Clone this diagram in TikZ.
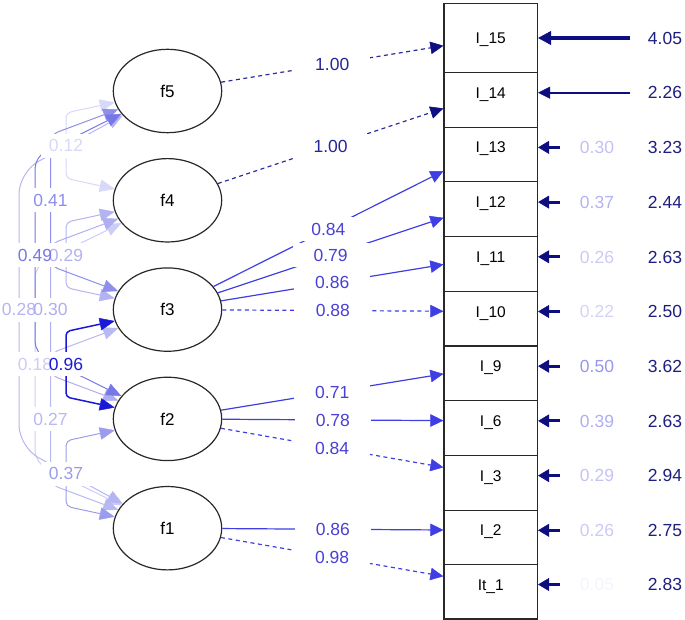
\documentclass[tikz,border=0pt]{standalone}
\usepackage{fontspec}
\setmainfont{Liberation Sans}
\usetikzlibrary{shapes.geometric,arrows.meta}
\definecolor{cb}{RGB}{25,25,215}
\definecolor{navyc}{RGB}{14,14,128}
\definecolor{navyl}{RGB}{30,30,128}
\definecolor{loadc}{RGB}{62,62,228}
\definecolor{loadl}{RGB}{74,64,214}
\definecolor{onec}{RGB}{42,42,165}
\definecolor{onel}{RGB}{38,38,150}
\definecolor{outl}{RGB}{40,40,40}
\colorlet{w12}{cb!17!white}
\colorlet{w18}{cb!22!white}
\colorlet{w27}{cb!31!white}
\colorlet{w28}{cb!32!white}
\colorlet{w29}{cb!33!white}
\colorlet{w30}{cb!35!white}
\colorlet{w37}{cb!43!white}
\colorlet{w41}{cb!49!white}
\colorlet{w49}{cb!59!white}
\colorlet{w96}{cb}
\colorlet{r05}{cb!5!white}
\colorlet{r22}{cb!19!white}
\colorlet{r26}{cb!23!white}
\colorlet{r29}{cb!26!white}
\colorlet{r30}{cb!27!white}
\colorlet{r37}{cb!33!white}
\colorlet{r39}{cb!35!white}
\colorlet{r50}{cb!45!white}
\begin{document}
\begin{tikzpicture}[x=1pt,y=-1pt,
 latent/.style={ellipse,draw=outl,line width=1.2pt,fill=white,minimum width=108.4pt,minimum height=83.4pt,inner sep=0pt,font=\fontsize{17}{19}\selectfont},
 manifest/.style={rectangle,draw=outl,line width=1.2pt,fill=white,minimum width=93.5pt,minimum height=69pt,inner sep=0pt,font=\fontsize{15.5}{18}\selectfont,text height=11pt,text depth=0pt},
 ldsolid/.style={draw=loadc,line width=1.2pt,-{Triangle[length=13pt,width=12.5pt,line width=0.5pt]}},
 lddash/.style={ldsolid,dash pattern=on 4pt off 3.5pt},
 ldone/.style={draw=onec,line width=1.2pt,dash pattern=on 4pt off 3.5pt,-{Triangle[length=13pt,width=12.5pt,line width=0.5pt,color=navyc]}},
 cov/.style={draw=#1,line width=1pt,{Triangle[length=15pt,width=12.5pt,line width=0.5pt]}-{Triangle[length=15pt,width=12.5pt,line width=0.5pt]}},
 lbgL/.style={fill=white,inner sep=0pt,minimum width=76pt,minimum height=24pt},
 lbgC/.style={fill=white,inner sep=0pt,minimum width=50pt,minimum height=24pt},
 elab/.style={inner sep=0pt,font=\fontsize{17.5}{20}\selectfont,text height=12.5pt,text depth=0pt},
 resid/.style={draw=navyc,line width=3pt,-{Triangle[length=11pt,width=13pt,line width=0.5pt]}},
]
\useasboundingbox (0,0) rectangle (685,620);

% latent variables
\node[latent] (f5) at (167.5,91) {f5};
\node[latent] (f4) at (167.5,200.3) {f4};
\node[latent] (f3) at (167.5,309.6) {f3};
\node[latent] (f2) at (167.5,418.9) {f2};
\node[latent] (f1) at (167.5,528.2) {f1};

% manifest variables (bottom to top so upper boxes overlap)
\node[manifest] (It1) at (490.75,584.5) {It\_1};
\node[manifest] (I2)  at (490.75,530.3) {I\_2};
\node[manifest] (I3)  at (490.75,475.6) {I\_3};
\node[manifest] (I6)  at (490.75,420.9) {I\_6};
\node[manifest] (I9)  at (490.75,366.2) {I\_9};
\node[manifest] (I10) at (490.75,311.5) {I\_10};
\node[manifest] (I11) at (490.75,256.8) {I\_11};
\node[manifest] (I12) at (490.75,202.1) {I\_12};
\node[manifest] (I13) at (490.75,147.4) {I\_13};
\node[manifest] (I14) at (490.75,92.7) {I\_14};
\node[manifest] (I15) at (490.75,38) {I\_15};

% loadings
\draw[ldone] (f5) -- coordinate[midway] (m15) (I15);
\draw[ldone] (f4) -- coordinate[midway] (m14) (I14);
\draw[ldsolid] (f3) -- coordinate[midway] (m13) (I13);
\draw[ldsolid] (f3) -- coordinate[midway] (m12) (I12);
\draw[ldsolid] (f3) -- coordinate[midway] (m11) (I11);
\draw[lddash] (f3) -- coordinate[midway] (m10) (I10);
\draw[ldsolid] (f2) -- coordinate[midway] (m9) (I9);
\draw[ldsolid] (f2) -- coordinate[midway] (m6) (I6);
\draw[lddash] (f2) -- coordinate[midway] (m3) (I3);
\draw[ldsolid] (f1) -- coordinate[midway] (m2) (I2);
\draw[lddash] (f1) -- coordinate[midway] (m1) (It1);

% covariances (weakest first)
\draw[cov=w12,rounded corners=5pt] (f5) -- (66,112.9) -- coordinate[midway] (c54) (66,178.4) -- (f4);
\draw[cov=w18,rounded corners=12pt] (f4) -- (35,265.9) -- coordinate[midway] (c41) (35,462.6) -- (f1);
\draw[cov=w27,rounded corners=8pt] (f3) -- (50.5,353.3) -- coordinate[midway] (c31) (50.5,484.5) -- (f1);
\draw[cov=w28,rounded corners=22pt] (f5) -- (19,172) -- coordinate[midway] (c51) (19,447) -- (f1);
\draw[cov=w29,rounded corners=5pt] (f4) -- (66,222.2) -- coordinate[midway] (c43) (66,287.7) -- (f3);
\draw[cov=w30,rounded corners=8pt] (f4) -- (50.5,244) -- coordinate[midway] (c42) (50.5,375.2) -- (f2);
\draw[cov=w37,rounded corners=5pt] (f2) -- (66,440.8) -- coordinate[midway] (c21) (66,506.3) -- (f1);
\draw[cov=w41,rounded corners=8pt] (f5) -- (50.5,134.7) -- coordinate[midway] (c53) (50.5,265.9) -- (f3);
\draw[cov=w49,rounded corners=12pt] (f5) -- (35,156.6) -- coordinate[midway] (c52) (35,353.3) -- (f2);
\draw[cov=w96,line width=1.5pt,rounded corners=4pt] (f3) -- (66,331.5) -- coordinate[midway] (c32) (66,397) -- (f2);

% label backgrounds
\foreach \m in {m15,m14,m13,m12,m11,m10,m9,m6,m3,m2,m1} \node[lbgL] (bg-\m) at (\m) {};
\foreach \m in {c54,c41,c31,c51,c43,c42,c21,c53,c52,c32} \node[lbgC] (bg-\m) at (\m) {};

% loading labels
\node[elab,text=onel]  (t15) at (m15) {1.00};
\node[elab,text=onel]  (t14) at (m14) {1.00};
\node[elab,text=loadl] (t13) at (m13) {0.84};
\node[elab,text=loadl] (t12) at (m12) {0.79};
\node[elab,text=loadl] (t11) at (m11) {0.86};
\node[elab,text=loadl] (t10) at (m10) {0.88};
\node[elab,text=loadl] (t9)  at (m9)  {0.71};
\node[elab,text=loadl] (t6)  at (m6)  {0.78};
\node[elab,text=loadl] (t3)  at (m3)  {0.84};
\node[elab,text=loadl] (t2)  at (m2)  {0.86};
\node[elab,text=loadl] (t1)  at (m1)  {0.98};

% covariance labels
\node[elab,text=w12] (tc54) at (c54) {0.12};
\node[elab,text=w18] (tc41) at (c41) {0.18};
\node[elab,text=w27] (tc31) at (c31) {0.27};
\node[elab,text=w28] (tc51) at (c51) {0.28};
\node[elab,text=w29] (tc43) at (c43) {0.29};
\node[elab,text=w30] (tc42) at (c42) {0.30};
\node[elab,text=w37] (tc21) at (c21) {0.37};
\node[elab,text=w41] (tc53) at (c53) {0.41};
\node[elab,text=w49] (tc52) at (c52) {0.49};
\node[elab,text=w96] (tc32) at (c32) {0.96};

% right-hand arrows
\coordinate (e15) at (630,38);
\coordinate (e14) at (630,92.7);
\coordinate (e13) at (560,147.4);
\coordinate (e12) at (560,202.1);
\coordinate (e11) at (560,256.8);
\coordinate (e10) at (560,311.5);
\coordinate (e9)  at (560,366.2);
\coordinate (e6)  at (560,420.9);
\coordinate (e3)  at (560,475.6);
\coordinate (e2)  at (560,530.3);
\coordinate (e1)  at (560,584.5);
\draw[draw=navyc,line width=4pt,-{Triangle[length=13pt,width=14pt,line width=0.5pt]}] (e15) -- (I15);
\draw[draw=navyc,line width=2pt,-{Triangle[length=12pt,width=12pt,line width=0.5pt]}] (e14) -- (I14);
\draw[resid] (e13) -- (I13);
\draw[resid] (e12) -- (I12);
\draw[resid] (e11) -- (I11);
\draw[resid] (e10) -- (I10);
\draw[resid] (e9) -- (I9);
\draw[resid] (e6) -- (I6);
\draw[resid] (e3) -- (I3);
\draw[resid] (e2) -- (I2);
\draw[resid] (e1) -- (It1);

% residual labels
\node[elab,text=r30] (v13) at (597,147.4) {0.30};
\node[elab,text=r37] (v12) at (597,202.1) {0.37};
\node[elab,text=r26] (v11) at (597,256.8) {0.26};
\node[elab,text=r22] (v10) at (597,311.5) {0.22};
\node[elab,text=r50] (v9)  at (597,366.2) {0.50};
\node[elab,text=r39] (v6)  at (597,420.9) {0.39};
\node[elab,text=r29] (v3)  at (597,475.6) {0.29};
\node[elab,text=r26] (v2)  at (597,530.3) {0.26};
\node[elab,text=r05] (v1)  at (597,584.5) {0.05};

% intercept labels
\node[elab,text=navyl] (u15) at (665,38) {4.05};
\node[elab,text=navyl] (u14) at (665,92.7) {2.26};
\node[elab,text=navyl] (u13) at (665,147.4) {3.23};
\node[elab,text=navyl] (u12) at (665,202.1) {2.44};
\node[elab,text=navyl] (u11) at (665,256.8) {2.63};
\node[elab,text=navyl] (u10) at (665,311.5) {2.50};
\node[elab,text=navyl] (u9)  at (665,366.2) {3.62};
\node[elab,text=navyl] (u6)  at (665,420.9) {2.63};
\node[elab,text=navyl] (u3)  at (665,475.6) {2.94};
\node[elab,text=navyl] (u2)  at (665,530.3) {2.75};
\node[elab,text=navyl] (u1)  at (665,584.5) {2.83};
\end{tikzpicture}
\end{document}
